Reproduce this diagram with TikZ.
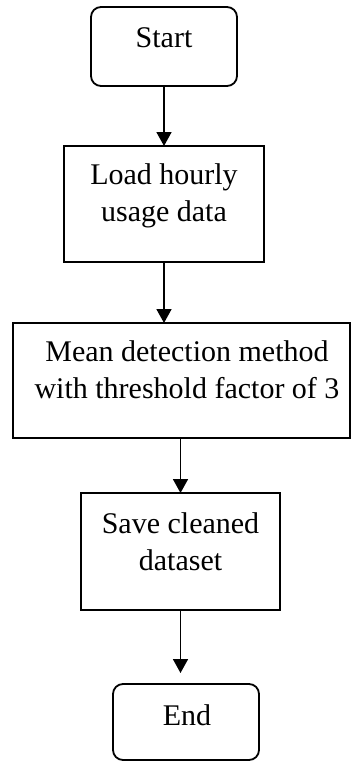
\documentclass[tikz,border=0pt]{standalone}
\usepackage{fontspec}
\setmainfont{Liberation Serif}
\usetikzlibrary{arrows.meta}

\begin{document}
\begin{tikzpicture}[x=0.5pt, y=-0.5pt,
    every node/.style={inner sep=0pt, outer sep=0pt},
    termbox/.style={draw, line width=0.9pt, rounded corners=5pt},
    procbox/.style={draw, line width=0.9pt},
    lbl/.style={anchor=north, align=center, font=\fontsize{15}{18.5}\selectfont},
    flow/.style={-{Triangle[width=7.5pt,length=7pt]}, line width=0.85pt}]
    \useasboundingbox (0,0) rectangle (352,761);
    % boxes
    \node[termbox, minimum width=73pt, minimum height=39.5pt] (start) at (164,46.5) {};
    \node[procbox, minimum width=100pt, minimum height=58pt] (load) at (164,204) {};
    \node[procbox, minimum width=168.5pt, minimum height=57.5pt] (detect) at (181.5,380.5) {};
    \node[procbox, minimum width=99.5pt, minimum height=58.5pt] (save) at (180.5,551.5) {};
    \node[termbox, minimum width=73pt, minimum height=38pt] (stop) at (186,722) {};
    % texts
    \node[lbl] (startlbl) at (164,27.5) {Start};
    \node[lbl] (loadlbl) at (164,163.5) {Load hourly\\usage data};
    \node[lbl] (detectlbl) at (187,341) {Mean detection method\\with threshold factor of 3};
    \node[lbl] (savelbl) at (180.5,512.5) {Save cleaned\\dataset};
    \node[lbl] (stoplbl) at (187,704.5) {End};
    % arrows
    \draw[flow] (start) -- (load);
    \draw[flow] (load.south) -- (load.south |- detect.north);
    \draw[flow] (detect.south -| save.north) -- (save.north);
    \draw[flow, shorten >=5.5pt] (save.south) -- (save.south |- stop.north);
\end{tikzpicture}
\end{document}
